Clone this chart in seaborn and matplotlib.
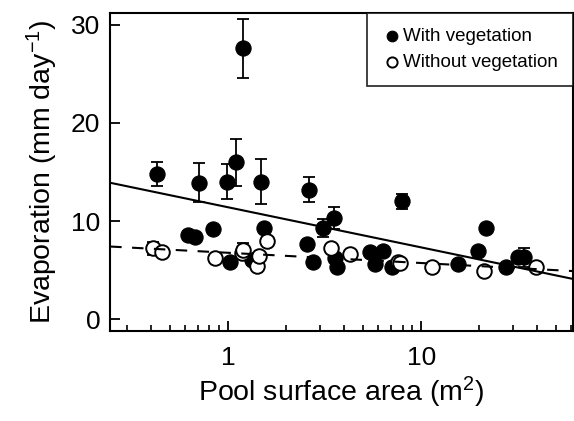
import numpy as np
import pandas as pd
import matplotlib
matplotlib.use('Agg')
import matplotlib.pyplot as plt
from matplotlib.ticker import LogLocator, NullFormatter, FixedLocator
import seaborn as sns

# pools with vegetation (filled circles)
veg_area = [0.43, 0.62, 0.67, 0.71, 0.83, 0.99, 1.02, 1.10, 1.20, 1.33,
            1.48, 1.54, 2.57, 2.63, 2.75, 3.10, 3.54, 3.58, 3.67, 5.44,
            5.77, 6.35, 7.07, 7.97, 15.5, 19.7, 21.7, 27.6, 31.8, 34.0]
veg_evap = [14.8, 8.6, 8.4, 13.9, 9.2, 14.0, 5.8, 16.0, 27.6, 6.0,
            14.0, 9.3, 7.7, 13.2, 5.8, 9.3, 10.3, 6.2, 5.3, 6.8,
            5.6, 6.9, 5.3, 12.0, 5.6, 6.9, 9.3, 5.3, 6.3, 6.3]
veg_err = [1.2, 0, 0, 2.0, 0, 1.8, 0, 2.4, 3.0, 0,
           2.3, 0, 0, 1.3, 0, 0.9, 1.1, 0, 0, 0,
           0, 0, 0, 0.8, 0, 0, 0, 0, 0, 1.0]

# pools without vegetation (open circles)
bare_area = [0.41, 0.455, 0.86, 1.18, 1.20, 1.41, 1.45, 1.59, 3.42, 4.29,
             7.6, 7.8, 11.4, 21.2, 39.4]
bare_evap = [7.2, 6.8, 6.2, 6.7, 7.0, 5.4, 6.4, 8.0, 7.2, 6.6,
             5.8, 5.7, 5.3, 4.9, 5.3]
bare_err = [0.7, 0, 0, 0, 0.8, 0, 0, 0, 0, 0,
            0, 0, 0, 0, 0]

# fitted lines (end points across the axis range)
fit_area = [0.245, 61]
fit_veg = [13.9, 4.1]
fit_bare = [7.4, 4.9]

veg = pd.DataFrame({'area': veg_area, 'evap': veg_evap, 'err': veg_err})
bare = pd.DataFrame({'area': bare_area, 'evap': bare_evap, 'err': bare_err})
fits = pd.DataFrame({'area': fit_area, 'veg': fit_veg, 'bare': fit_bare})

sns.set_style('ticks')
plt.rcParams['font.family'] = ['Liberation Sans', 'DejaVu Sans']
plt.rcParams['mathtext.fontset'] = 'custom'
plt.rcParams['mathtext.rm'] = 'Liberation Sans'
plt.rcParams['mathtext.it'] = 'Liberation Sans'
for key in ('text.color', 'axes.labelcolor', 'xtick.color', 'ytick.color',
            'axes.edgecolor'):
    plt.rcParams[key] = 'black'

fig = plt.figure(figsize=(5.74, 4.21), dpi=100)
ax = fig.add_axes([0.192, 0.214, 0.806, 0.755])

# error bars first, points on top
for d in (veg, bare):
    e = d[d['err'] > 0]
    ax.errorbar(e['area'], e['evap'], yerr=e['err'], fmt='none',
                ecolor='black', elinewidth=1.3, capsize=4.5, capthick=1.3, zorder=1)

sns.scatterplot(data=veg, x='area', y='evap', ax=ax, s=120, color='black',
                edgecolor='black', linewidth=0.8, label='With vegetation', zorder=2)
sns.scatterplot(data=bare, x='area', y='evap', ax=ax, s=110, color='white',
                edgecolor='black', linewidth=1.4, label='Without vegetation', zorder=3)

sns.lineplot(data=fits, x='area', y='veg', ax=ax, color='black', lw=1.5, zorder=4)
sns.lineplot(data=fits, x='area', y='bare', ax=ax, color='black', lw=1.5,
             dashes=False, zorder=4)
ax.lines[-1].set_dashes((5.5, 5))

ax.set_xscale('log')
ax.set_xlim(0.245, 61)
ax.set_ylim(-1.2, 31.2)
ax.xaxis.set_major_locator(FixedLocator([1, 10]))
ax.set_xticklabels(['1', '10'])
ax.xaxis.set_minor_locator(LogLocator(base=10, subs=np.arange(2, 10)))
ax.xaxis.set_minor_formatter(NullFormatter())
ax.set_yticks([0, 10, 20, 30])

for s in ax.spines.values():
    s.set_linewidth(1.5)
    s.set_visible(True)
    s.set_color('black')
ax.tick_params(axis='both', which='major', direction='in', length=7, width=1.3,
               labelsize=19, pad=7)
ax.tick_params(axis='x', which='minor', direction='in', length=4, width=1.2)
ax.tick_params(axis='x', which='major', pad=11)

ax.set_xlabel('Pool surface area (m$^2$)', fontsize=20.5, labelpad=3)
ax.set_ylabel('Evaporation (mm day$^{-1}$)', fontsize=20.5, labelpad=8)

leg = ax.legend(loc='upper right', bbox_to_anchor=(1.0, 1.0), fontsize=13.5,
                frameon=True, fancybox=False, borderaxespad=0, handletextpad=0.1,
                handlelength=1.0, markerscale=0.7, labelspacing=0.45, borderpad=0.8)
leg.get_frame().set_edgecolor('black')
leg.get_frame().set_linewidth(1.3)

fig.savefig('out.png', dpi=100)
